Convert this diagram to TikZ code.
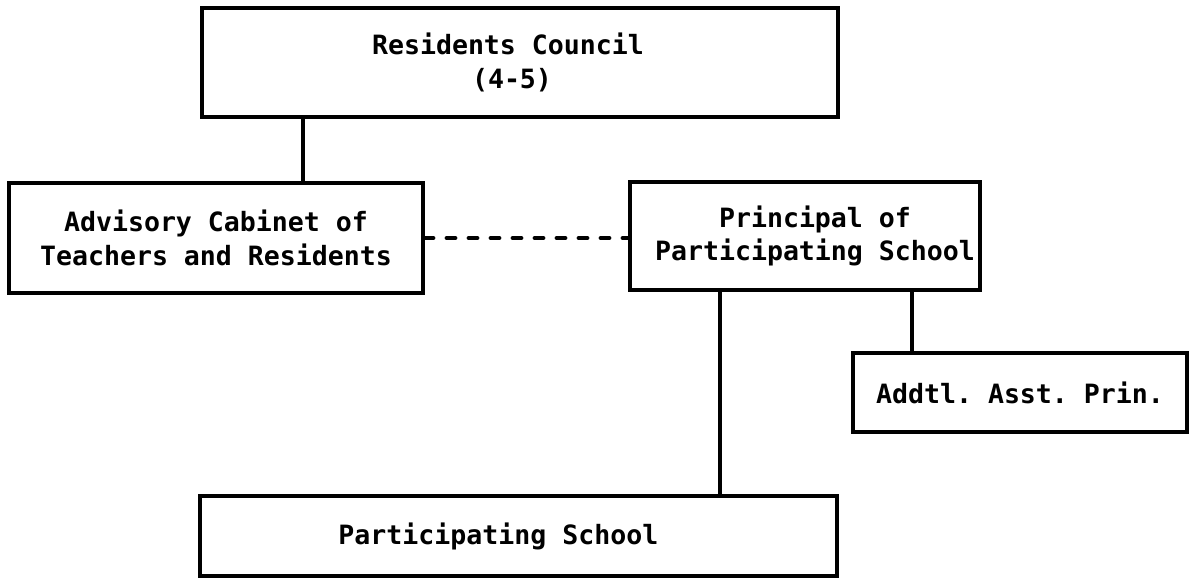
\documentclass[tikz,border=0pt]{standalone}
\usepackage{fontspec}
\setmonofont{DejaVu Sans Mono}
\usepackage{tikz}

\tikzset{
	box/.style={draw, line width=0.1cm, rectangle, align=center, inner sep=0pt,
		font=\ttfamily\bfseries\fontsize{18.9}{24.1}\selectfont},
	link/.style={line width=0.1cm},
	dashlink/.style={line width=0.12cm, line cap=round, dash pattern=on 0.2cm off 0.35cm}
}

\begin{document}
\begin{tikzpicture}
		\useasboundingbox (0, 0) rectangle (29.9, 14.45);
		
		\node[box, minimum width=15.9cm, minimum height=2.725cm] (council) at (13.0, 12.89) {Residents Council\hspace*{0.6cm}\\(4-5)\hspace*{0.4cm}};
		\node[box, minimum width=10.35cm, minimum height=2.75cm] (cabinet) at (5.4, 8.5) {Advisory Cabinet of\\Teachers and Residents};
		\node[box, minimum width=8.75cm, minimum height=2.7cm] (principal) at (20.125, 8.55) {\hspace*{0.5cm}Principal of\\\hspace*{0.5cm}Participating School};
		\node[box, minimum width=8.35cm, minimum height=1.975cm] (asst) at (25.5, 4.64) {Addtl. Asst. Prin.};
		\node[box, minimum width=15.925cm, minimum height=2.0cm] (school) at (12.96, 1.05) {Participating School\hspace*{1.0cm}};
		
		\draw[link] (council.south -| 7.575, 0) -- (cabinet.north -| 7.575, 0);
		\draw[dashlink] (cabinet.east) -- (cabinet.east -| principal.west);
		\draw[link] (principal.south -| 18.0, 0) -- (school.north -| 18.0, 0);
		\draw[link] (principal.south -| 22.8, 0) -- (asst.north -| 22.8, 0);
	\end{tikzpicture}
\end{document}
